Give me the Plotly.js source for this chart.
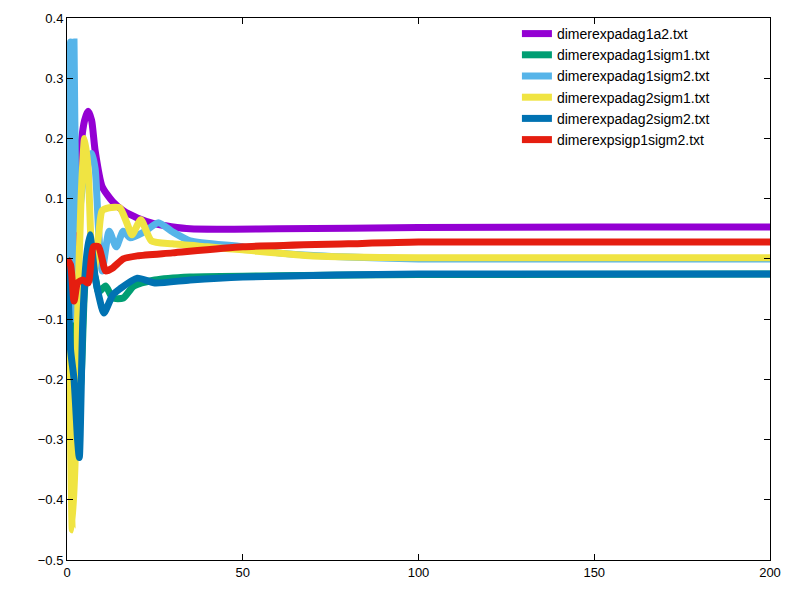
<!DOCTYPE html><html><head><script src="https://cdn.plot.ly/plotly-3.0.1.min.js"></script></head><body style="margin:0"><div id="c" style="width:800px;height:600px"></div><script>
const names=["dimerexpadag1a2.txt","dimerexpadag1sigm1.txt","dimerexpadag1sigm2.txt","dimerexpadag2sigm1.txt","dimerexpadag2sigm2.txt","dimerexpsigp1sigm2.txt"];
const colors=["#9400d3","#009e73","#56b4e9","#f0e442","#0072b2","#e51e10"];
const tA=[0,1,2,3,4,5,6,7,8,10,13,16,20,25,35,60,100,150,200];
const vA=[0,0,-0.05,0.1,0.19,0.23,0.245,0.23,0.18,0.12,0.095,0.08,0.068,0.058,0.05,0.05,0.052,0.053,0.053];
const tB=[0,1,2,3,4,5,6,7,8,9,11,13,16,19,25,35,60,100,200];
const vB=[0,-0.1,-0.2,-0.25,-0.2,-0.05,0,-0.02,-0.03,-0.055,-0.045,-0.065,-0.065,-0.045,-0.035,-0.03,-0.028,-0.026,-0.025];
const tC=[0,1,1.5,2,2.5,3,4,5,6,7,8,9,10,12,14,16,18,22,26,30,35,50,60,80,100,200];
const vC=[0,0.36,-0.1,0.36,0.1,0.05,0.1,0.15,0.17,0.175,0.15,0.046,-0.02,0.046,0.02,0.046,0.035,0.045,0.06,0.045,0.03,0.02,0.01,0.003,0,0];
const tD=[0,1,1.5,2.5,3,4,5,6,7,7.5,9,10,12,15,17,18.5,21,24,30,40,50,70,100,200];
const vD=[0,-0.3,-0.45,-0.3,-0.1,0.1,0.2,0.15,0,-0.03,0.04,0.08,0.085,0.085,0.06,0.04,0.065,0.03,0.025,0.02,0.015,0.005,0.002,0.002];
const tE=[0,1,2,3,3.5,4.5,5.5,6.5,8,9,10.5,13,15,20,25,35,50,100,200];
const vE=[0,-0.15,-0.2,-0.3,-0.33,-0.1,0,0.04,-0.03,-0.06,-0.09,-0.06,-0.05,-0.032,-0.04,-0.035,-0.03,-0.025,-0.025];
const tF=[0,1,2,3,4.5,6,7.5,9,11,13,16,20,30,50,80,100,200];
const vF=[0,-0.01,-0.07,-0.04,-0.035,-0.04,0.02,0.02,-0.02,-0.015,0,0.005,0.01,0.02,0.025,0.028,0.028];
const T=[tA,tB,tC,tD,tE,tF],V=[vA,vB,vC,vD,vE,vF];
const traces=names.map((n,i)=>({x:T[i],y:V[i],name:n,mode:'lines',line:{color:colors[i],width:7,shape:'spline',smoothing:0.6}}));
Plotly.newPlot('c',traces,{width:800,height:600,margin:{l:67,r:30,t:18,b:40},paper_bgcolor:'#fff',plot_bgcolor:'#fff',
font:{family:'Liberation Sans, Arial',size:13,color:'#000'},showlegend:true,
legend:{x:0.64,y:1,xanchor:'left',yanchor:'top',bgcolor:'rgba(0,0,0,0)',traceorder:'normal',tracegroupgap:0,font:{size:14}},
xaxis:{range:[0,200],dtick:50,showgrid:false,zeroline:false,showline:true,mirror:'ticks',linecolor:'#000',ticks:'inside',ticklen:6,tickcolor:'#000'},
yaxis:{range:[-0.5,0.4],dtick:0.1,showgrid:false,zeroline:false,showline:true,mirror:'ticks',linecolor:'#000',ticks:'inside',ticklen:6,tickcolor:'#000'}},{displayModeBar:false});
</script></body></html>
